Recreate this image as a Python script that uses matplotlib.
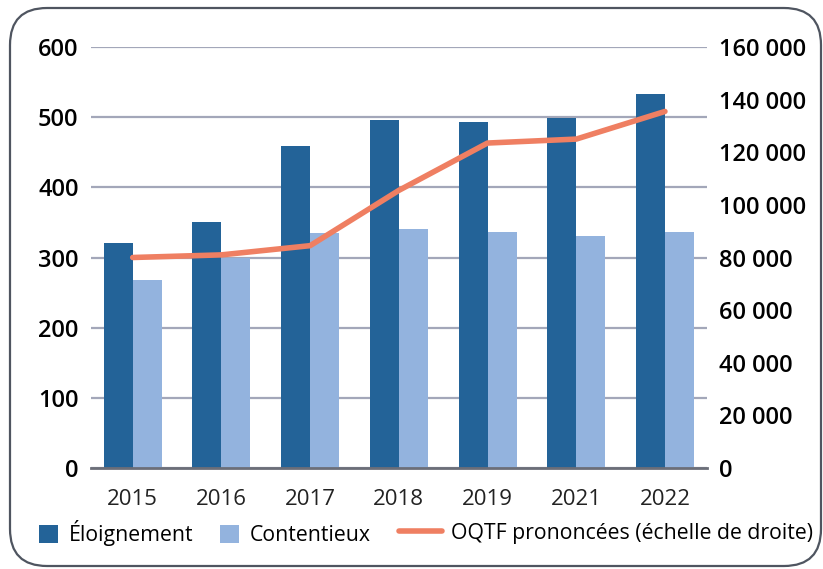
import matplotlib
matplotlib.use("Agg")
import numpy as np
from matplotlib import pyplot as plt
from matplotlib.patches import FancyBboxPatch
from matplotlib.ticker import FuncFormatter

## Data ##

years = ["2015", "2016", "2017", "2018", "2019", "2021", "2022"]
eloignement = [320, 351, 459, 496, 493, 499, 533]
contentieux = [268, 300, 335, 341, 337, 331, 337]
oqtf = [80000, 81000, 84500, 105500, 123500, 125000, 135500]

## Style ##

c_dark = "#236398"
c_light = "#93b3de"
c_line = "#ef7f62"
c_grid = "#a3a7b9"

plt.rcParams['font.family'] = ['Open Sans', 'DejaVu Sans']

fig = plt.figure(figsize=(8.23, 5.69), dpi=100)

# rounded frame
frame = FancyBboxPatch((10/823, 3/569), 811/823, 558/569, boxstyle="round,pad=0,rounding_size=0.045",
                       transform=fig.transFigure, facecolor="none", edgecolor="#4f5560",
                       linewidth=1.6, mutation_aspect=823/569, zorder=-1)
fig.patches.append(frame)

ax = fig.add_axes([0.1106, 0.1775, 0.748, 0.7399])
x = np.arange(len(years))
w = 0.327
ax.bar(x - w/2, eloignement, w, color=c_dark, label="Éloignement", zorder=2)
ax.bar(x + w/2, contentieux, w, color=c_light, label="Contentieux", zorder=2)

ax.set_ylim(0, 600)
ax.set_xlim(-0.47, 6.47)
ax.set_yticks(range(0, 601, 100))
ax.yaxis.grid(True, color=c_grid, linewidth=1.6, zorder=0)
ax.set_axisbelow(True)
for s in ["top", "right", "left"]:
    ax.spines[s].set_visible(False)
ax.spines["bottom"].set_color("#6b6e78")
ax.spines["bottom"].set_linewidth(2)
ax.spines["bottom"].set_zorder(3)
ax.set_xticks(x)
ax.set_xticklabels(years, fontsize=16, color="#222222")
ax.tick_params(axis="x", length=0, pad=15)
ax.tick_params(axis="y", length=0, pad=9, labelsize=17)
for t in ax.get_yticklabels():
    t.set_fontweight("semibold")

ax2 = ax.twinx()
ax2.plot(x, oqtf, color=c_line, linewidth=4, solid_capstyle="round", solid_joinstyle="round",
         label="OQTF prononcées (échelle de droite)", zorder=4)
ax2.set_ylim(0, 160000)
ax2.set_yticks(range(0, 160001, 20000))
ax2.yaxis.set_major_formatter(FuncFormatter(lambda v, p: f"{int(v):,}".replace(",", " ")))
ax2.tick_params(axis="y", length=0, pad=9, labelsize=17)
for t in ax2.get_yticklabels():
    t.set_fontweight("semibold")
for s in ["top", "right", "left", "bottom"]:
    ax2.spines[s].set_visible(False)

# legends: squares on the left, longer line handle on its own
h1, l1 = ax.get_legend_handles_labels()
h2, l2 = ax2.get_legend_handles_labels()
fig.legend(h1, l1, loc="center left", bbox_to_anchor=(0.047, 0.063), ncol=2,
           frameon=False, prop={"size": 15.3}, borderpad=0, borderaxespad=0,
           handlelength=0.9, handleheight=0.9, handletextpad=0.5, columnspacing=1.25)
fig.legend(h2, l2, loc="center left", bbox_to_anchor=(0.485, 0.063), ncol=1,
           frameon=False, prop={"size": 15.3}, borderpad=0, borderaxespad=0,
           handlelength=2.0, handletextpad=0.45)

plt.savefig("out.png", dpi=100)
